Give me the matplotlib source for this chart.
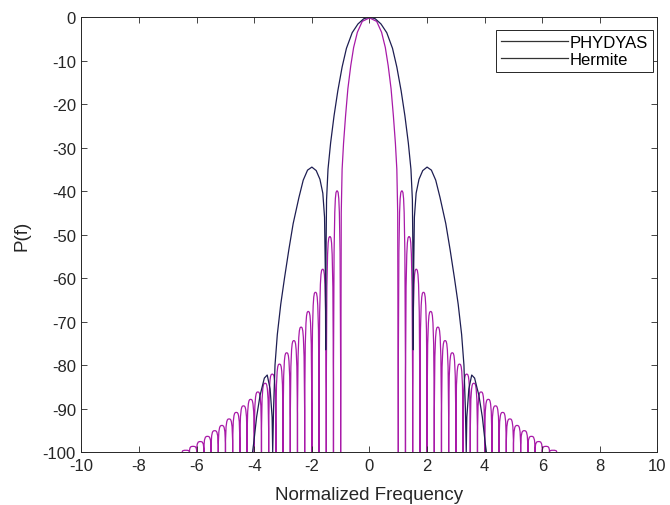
import numpy as np
import matplotlib
matplotlib.use("Agg")
import matplotlib.pyplot as plt
from matplotlib.path import Path
from matplotlib.patches import PathPatch

# -------------------------------------------------------
# DATOS (lado positivo; el espectro es simétrico)
# -------------------------------------------------------
# PHYDYAS, lóbulo principal
phy_main_f = [0.0, 0.25, 0.42, 0.55, 0.65, 0.75, 0.83, 0.90, 0.95, 0.98, 1.0]
phy_main_db = [-0.2, -1.0, -3.5, -7.0, -11.2, -16.5, -22.7, -29.0, -35.0, -45.0, -100.0]

# PHYDYAS, lóbulos laterales: nulos y picos
phy_null_f = [1.0, 1.25, 1.5, 1.75, 2.0, 2.25, 2.5, 2.75, 3.0, 3.25, 3.5, 3.75,
              4.0, 4.25, 4.5, 4.75, 5.0, 5.25, 5.5, 5.75, 6.0, 6.25, 6.5]
phy_peak_f = [1.125, 1.375, 1.625, 1.875, 2.125, 2.375, 2.625, 2.875, 3.125, 3.375, 3.625,
              3.875, 4.125, 4.375, 4.625, 4.875, 5.125, 5.375, 5.625, 5.875, 6.125, 6.375]
phy_peak_db = [-40.0, -50.5, -58.0, -63.3, -67.7, -71.3, -74.4, -77.2, -79.8, -82.1, -84.2,
               -86.2, -87.9, -89.4, -90.9, -92.4, -93.9, -95.1, -96.4, -97.6, -98.7, -99.6]

# Hermite
herm_f = [0.0, 0.2, 0.4, 0.6, 0.8, 0.95, 1.1, 1.23, 1.35, 1.44, 1.49, 1.51, 1.52,
          1.53, 1.56, 1.62, 1.72, 1.85, 2.0, 2.15, 2.3, 2.45, 2.65, 2.8, 2.95,
          3.08, 3.2, 3.28, 3.33, 3.36,
          3.38, 3.45, 3.55, 3.65, 3.8, 3.92, 4.02, 4.06]
herm_db = [0.0, -0.4, -1.6, -3.6, -7.2, -11.5, -17.0, -22.7, -29.0, -35.0, -42.0, -55.0, -76.5,
           -60.0, -46.0, -40.5, -37.3, -35.3, -34.5, -35.2, -37.5, -41.5, -47.5, -53.5, -60.0,
           -66.0, -73.0, -80.0, -90.0, -100.0,
           -92.0, -85.5, -82.3, -83.0, -87.0, -92.0, -98.0, -100.0]

PHY_COLOR = '#a81aa8'
HERM_COLOR = '#1e1e52'
AX_COLOR = '#262626'
FLOOR = -100.0


def mirror(f, v):
    f = np.asarray(f)
    v = np.asarray(v)
    return np.concatenate([-f[::-1], f[1:]]), np.concatenate([v[::-1], v[1:]])


def sidelobe_path(nulls, peaks, vals, sign):
    # cada lóbulo: sube desde el nulo y se redondea en el pico
    verts, codes = [], []
    for i in range(len(peaks)):
        x0, x1 = sign * nulls[i], sign * nulls[i + 1]
        xp, p = sign * peaks[i], vals[i]
        verts += [(x0, FLOOR), (x0, p), (xp - 0.55 * (xp - x0), p), (xp, p),
                  (xp + 0.55 * (x1 - xp), p), (x1, p), (x1, FLOOR)]
        codes += [Path.MOVETO, Path.CURVE4, Path.CURVE4, Path.CURVE4,
                  Path.CURVE4, Path.CURVE4, Path.CURVE4]
    return Path(verts, codes)


plt.rcParams['font.family'] = ['Liberation Sans', 'DejaVu Sans']
plt.rcParams['axes.unicode_minus'] = False

fig = plt.figure(figsize=(6.7, 5.06), dpi=100)
ax = fig.add_axes([0.1216, 0.1047, 0.8597, 0.8597])

pf, pv = mirror(phy_main_f, phy_main_db)
ax.plot(pf, pv, color=PHY_COLOR, lw=0.9, label='PHYDYAS')
for s in (1, -1):
    ax.add_patch(PathPatch(sidelobe_path(phy_null_f, phy_peak_f, phy_peak_db, s),
                           facecolor='none', edgecolor=PHY_COLOR, lw=0.9))

hf, hv = mirror(herm_f, herm_db)
ax.plot(hf, hv, color=HERM_COLOR, lw=0.9, label='Hermite')

ax.set_xlim(-10, 10)
ax.set_ylim(-100, 0)
ax.set_xticks(np.arange(-10, 11, 2))
ax.set_yticks(np.arange(-100, 1, 10))
ax.tick_params(direction='in', length=4, width=0.6, top=True, right=True,
               labelsize=12, colors=AX_COLOR, pad=4)
for sp in ax.spines.values():
    sp.set_color(AX_COLOR)
    sp.set_linewidth(0.7)

ax.set_xlabel('Normalized Frequency', fontsize=13.5, color=AX_COLOR, labelpad=10)
ax.set_ylabel('P(f)', fontsize=13.5, color=AX_COLOR, labelpad=9)

leg = ax.legend(loc='upper right', bbox_to_anchor=(653 / 670, 1 - 31 / 506),
                bbox_transform=fig.transFigure, borderaxespad=0, fontsize=12,
                handlelength=4.0, handletextpad=0.1, labelspacing=0.1,
                borderpad=0.3, fancybox=False, framealpha=1)
leg.get_frame().set_edgecolor(AX_COLOR)
leg.get_frame().set_linewidth(0.7)
for line in leg.get_lines():
    line.set_color('#333333')

fig.savefig('out.png', dpi=100)
